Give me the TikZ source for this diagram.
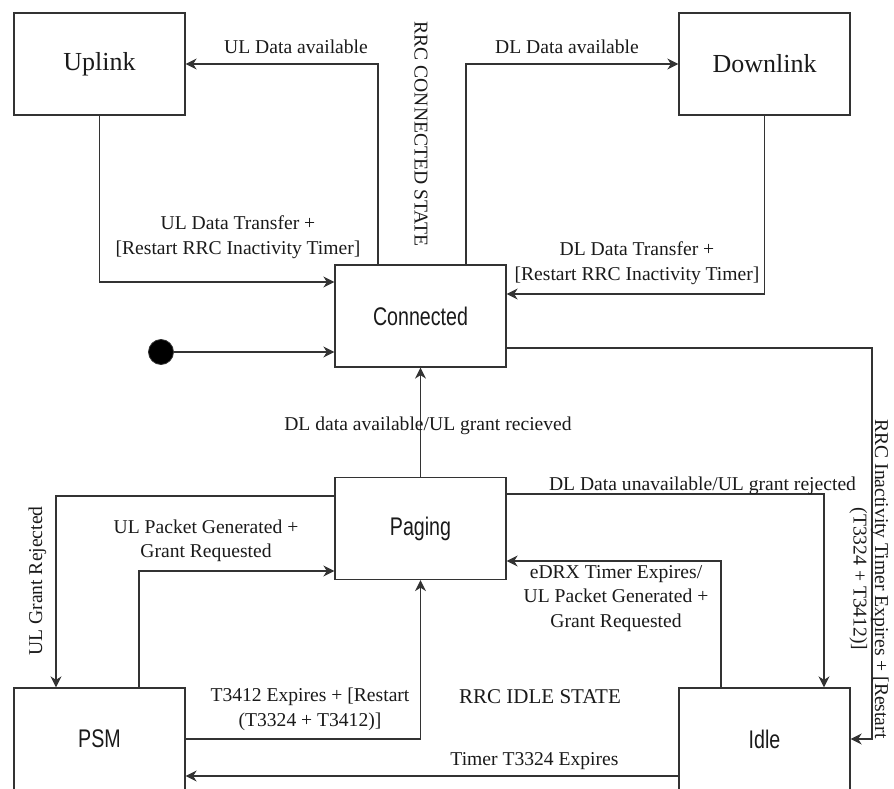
\documentclass[tikz,border=0pt]{standalone}
\usepackage{fontspec}
\setmainfont{Liberation Serif}
\newfontfamily\boxsans[FakeStretch=0.77]{Liberation Sans}
\usetikzlibrary{arrows.meta}
\definecolor{linec}{HTML}{333333}
\definecolor{textc}{HTML}{1A1A1A}
\tikzset{
  statebox/.style={draw=linec, line width=1.3pt, minimum width=171pt, minimum height=102pt, inner sep=0pt, text=textc},
  serifbox/.style={statebox, font=\fontsize{26}{30}\selectfont},
  sansbox/.style={statebox, font=\boxsans\fontsize{25.5}{29}\selectfont},
  arr/.style={draw=linec, line width=1.3pt, -{Stealth[length=11pt,width=11pt,inset=3.5pt]}},
  lbl/.style={text=textc, font=\fontsize{19.6}{24.5}\selectfont, align=center, inner sep=0pt},
  initdot/.style={circle, fill=black, draw=linec, line width=0.8pt, minimum size=25pt, inner sep=0pt},
}
\begin{document}
\begin{tikzpicture}[x=1pt,y=-1pt]
\useasboundingbox (0,0) rectangle (894,789);
% states
\node[serifbox] (up) at (99.5,64) {Uplink};
\node[serifbox] (down) at (764.5,64) {Downlink};
\node[sansbox] (conn) at (420.5,316) {Connected};
\node[sansbox] (pag) at (420.5,528.5) {Paging};
\node[sansbox] (psm) at (99.5,739) {PSM};
\node[sansbox] (idle) at (764.5,739) {Idle};
\node[initdot] (init) at (161,352) {};
\coordinate (rc) at (872,348);
% connectors
\draw[arr] ([xshift=-42.5pt]conn.north) |- (up.east);
\draw[arr] (up.south) |- ([yshift=34pt]conn.west);
\draw[arr] ([xshift=45.5pt]conn.north) |- (down.west);
\draw[arr] (down.south) |- ([yshift=22pt]conn.east);
\draw[arr] (init) -- (init -| conn.west);
\draw[arr] (pag.north) -- (conn.south);
\draw[arr] (rc -| conn.east) -- (rc) |- (idle.east);
\draw[arr] ([yshift=34.5pt]pag.east) -| ([xshift=59.5pt]idle.north);
\draw[arr] ([yshift=32.5pt]pag.west) -| ([xshift=-43.5pt]psm.north);
\draw[arr] ([xshift=39.5pt]psm.north) |- ([yshift=-42.5pt]pag.west);
\draw[arr] (psm.east) -| (pag.south);
\draw[arr] ([xshift=-43.5pt]idle.north) |- ([yshift=-32.5pt]pag.east);
\draw[arr] ([yshift=-37pt]idle.west) -- ([yshift=-37pt]psm.east);
% labels
\node[lbl] (lulav) at (296,47) {UL Data available};
\node[lbl] (ldlav) at (567,46.5) {DL Data available};
\node[lbl] (lultr) at (238,237) {UL Data Transfer +\\{}[Restart RRC Inactivity Timer]};
\node[lbl] (ldltr) at (637,263) {DL Data Transfer +\\{}[Restart RRC Inactivity Timer]};
\node[lbl, rotate=-90] (lrcs) at (421,134) {RRC CONNECTED STATE};
\node[lbl] (lgrant) at (428,425.5) {DL data available/UL grant recieved};
\node[lbl] (lunav) at (702.5,485.5) {DL Data unavailable/UL grant rejected};
\node[lbl, rotate=-90, font=\fontsize{19.6}{21.5}\selectfont] (linact) at (869,579) {RRC Inactivity Timer Expires + [Restart\\(T3324 + T3412)]};
\node[lbl, rotate=90] (lrej) at (37.5,581) {UL Grant Rejected};
\node[lbl] (lpkt) at (206,541) {UL Packet Generated +\\Grant Requested};
\node[lbl] (ledrx) at (616,598.5) {eDRX Timer Expires/\\UL Packet Generated +\\Grant Requested};
\node[lbl] (lt3412) at (310,709.5) {T3412 Expires + [Restart\\(T3324 + T3412)]};
\node[lbl, font=\fontsize{21}{25}\selectfont] (lidle) at (540,697) {RRC IDLE STATE};
\node[lbl] (lt3324) at (534.5,761.5) {Timer T3324 Expires};
\end{tikzpicture}
\end{document}
